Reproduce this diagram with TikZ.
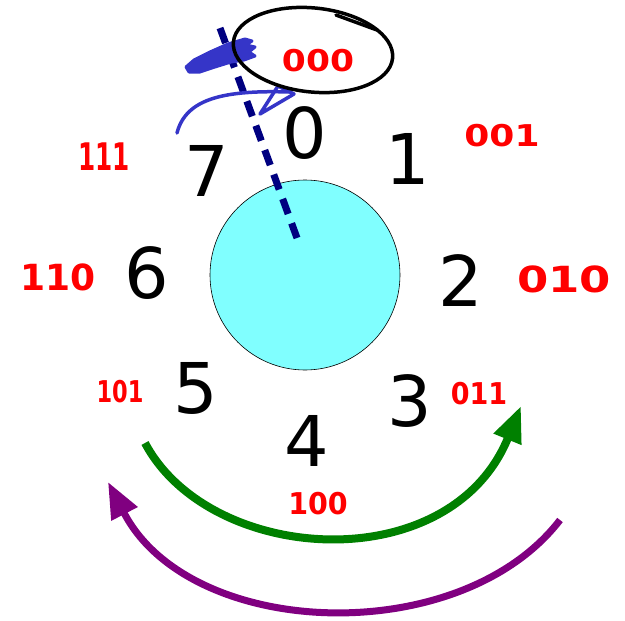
\documentclass[tikz,border=0pt]{standalone}
\usepackage{fontspec}
\setmainfont{DejaVu Sans}
\usetikzlibrary{arrows.meta}
\definecolor{cyanfill}{HTML}{80FFFF}
\definecolor{navyline}{HTML}{000080}
\definecolor{penblue}{HTML}{3535C8}
\definecolor{greenarc}{HTML}{008000}
\definecolor{purplearc}{HTML}{800080}
\begin{document}
\begin{tikzpicture}[x=1pt,y=-1pt,
  digit/.style={font=\fontsize{70}{70}\selectfont, inner sep=0pt},
  bits/.style={text=red, inner sep=0pt, font=\bfseries\fontsize{30}{30}\selectfont},
  bigarc/.style={line width=8pt, -{Triangle[length=36pt,width=28pt]}},
  pen/.style={penblue, line width=3.5pt, line cap=round, line join=round},
]
\useasboundingbox (0,0) rectangle (625,621);
% disk
\node[circle, draw, line width=0.6pt, fill=cyanfill, minimum size=190pt, inner sep=0pt] (disk) at (305,275) {};
% digits
\node[digit] (d0) at (305,133) {0};
\node[digit] (d1) at (408,159) {1};
\node[digit] (d2) at (461,281) {2};
\node[digit] (d3) at (410,401) {3};
\node[digit] (d4) at (307,441) {4};
\node[digit] (d5) at (196,388) {5};
\node[digit] (d6) at (147,273) {6};
\node[digit] (d7) at (207,171) {7};
% dashed radius
\coordinate (dtop) at (220,28);
\coordinate (dend) at (297,238);
\draw[navyline, line width=7pt, dash pattern=on 16pt off 10pt] (dtop) -- (dend);
% blue scribble
\filldraw[penblue, line width=3pt, line join=round]
  (186,67) -- (194,60) -- (210,52) -- (228,44) -- (245,39) -- (252,41) -- (246,45)
  -- (255,47) -- (249,52) -- (255,56) -- (244,60) -- (231,62) -- (215,67) -- (200,72) -- (189,72) -- cycle;
% blue hand arrow
\coordinate (ba0) at (177,133);
\coordinate (ba1) at (290,92);
\draw[pen] (ba0) .. controls (186,98) and (225,90) .. (ba1);
\draw[pen] (278,86) -- (294,94) -- (260,114) -- cycle;
% ellipse around 000
\draw[line width=3.5pt, rotate around={-6:(313,50)}] (313,50) ellipse [x radius=80, y radius=42];
\draw[line width=3.5pt, line cap=round] (336,15) -- (377,30);
% binary labels
\node[bits, xscale=1.15] (b0) at (318,61) {000};
\node[bits, xscale=1.2] (b1) at (502,136) {001};
\node[bits, font=\bfseries\fontsize{36}{36}\selectfont, xscale=1.25] (b2) at (564,279) {010};
\node[bits, xscale=0.9] (b3) at (479,394) {011};
\node[bits, xscale=0.95] (b4) at (318,504) {100};
\node[bits, xscale=0.75] (b5) at (120,392) {101};
\node[bits, font=\bfseries\fontsize{36}{36}\selectfont] (b6) at (58,277) {110};
\node[bits, font=\bfseries\fontsize{38}{38}\selectfont, xscale=0.65] (b7) at (104,157) {111};
% arcs
\coordinate (g0) at (145,443);
\coordinate (g1) at (521,406);
\draw[bigarc, greenarc] (g0) .. controls (210,565) and (450,580) .. (g1);
\coordinate (p0) at (560,520);
\coordinate (p1) at (108,482);
\draw[bigarc, purplearc, line width=7pt] (p0) .. controls (460,650) and (190,640) .. (p1);
\end{tikzpicture}
\end{document}
